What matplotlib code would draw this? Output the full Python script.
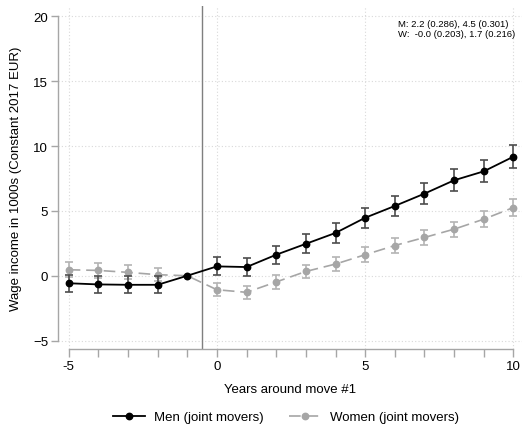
import numpy as np
import matplotlib.pyplot as plt

plt.rcParams['font.family'] = ['Liberation Sans', 'DejaVu Sans']

# event time relative to first move
years = [-5, -4, -3, -2, -1, 0, 1, 2, 3, 4, 5, 6, 7, 8, 9, 10]

# coefficients and 95% CI half-widths (1000s EUR)
men = [-0.58, -0.67, -0.70, -0.70, 0.0, 0.72, 0.67, 1.62, 2.46, 3.30, 4.47, 5.38, 6.33, 7.36, 8.05, 9.18]
men_ci = [0.67, 0.67, 0.66, 0.66, 0.0, 0.70, 0.68, 0.70, 0.72, 0.74, 0.77, 0.80, 0.80, 0.85, 0.86, 0.88]
women = [0.46, 0.41, 0.26, 0.08, 0.0, -1.08, -1.28, -0.48, 0.33, 0.90, 1.62, 2.33, 2.95, 3.59, 4.36, 5.26]
women_ci = [0.58, 0.57, 0.55, 0.52, 0.0, 0.50, 0.50, 0.52, 0.52, 0.53, 0.56, 0.56, 0.57, 0.58, 0.60, 0.62]

note = "M: 2.2 (0.286), 4.5 (0.301)\nW:  -0.0 (0.203), 1.7 (0.216)"

W, H = 527, 427
fig = plt.figure(figsize=(W / 100, H / 100), dpi=100)
ax = fig.add_axes([58 / W, 1 - 350 / H, (522 - 58) / W, (350 - 7) / H])

ax.set_xlim(-5.36, 10.29)
ax.set_ylim(-5.65, 20.8)

# dotted grid
for gy in [-5, 0, 5, 10, 15, 20]:
    ax.axhline(gy, color='#d9d9d9', lw=0.8, ls=(0, (1, 2)), zorder=0)
for gx in [-5, 0, 5, 10]:
    ax.axvline(gx, color='#d9d9d9', lw=0.8, ls=(0, (1, 2)), zorder=0)

ax.axvline(-0.5, color='#7f7f7f', lw=1.0, zorder=1)

ax.errorbar(years, women, yerr=women_ci, fmt='none', ecolor='#b4b4b4',
            elinewidth=1.2, capsize=2.6, capthick=1.2, zorder=2)
ax.plot(years, women, color='#a6a6a6', ls=(0, (7, 3.5)), lw=1.2, marker='o',
        ms=4.6, mfc='#a6a6a6', mec='#a6a6a6', zorder=3, label='Women (joint movers)')

ax.errorbar(years, men, yerr=men_ci, fmt='none', ecolor='#4d4d4d',
            elinewidth=1.2, capsize=2.6, capthick=1.2, zorder=4)
ax.plot(years, men, color='black', lw=1.3, marker='o', ms=4.6,
        mfc='black', mec='black', zorder=5, label='Men (joint movers)')

for side in ['top', 'right']:
    ax.spines[side].set_visible(False)
for side in ['left', 'bottom']:
    ax.spines[side].set_color('#a6a6a6')
    ax.spines[side].set_linewidth(1.0)
ax.spines['left'].set_bounds(-5, 20)
ax.spines['bottom'].set_bounds(-5, 10)

ax.set_xticks(years)
ax.set_xticklabels([str(y) if y % 5 == 0 else '' for y in years])
ax.set_yticks([-5, 0, 5, 10, 15, 20])
ax.tick_params(axis='x', length=6, width=1.0, color='#a6a6a6', labelsize=9.5, pad=2)
ax.tick_params(axis='y', length=5, width=1.0, color='#a6a6a6', labelsize=9.5, pad=2)

ax.set_xlabel('Years around move #1', fontsize=9.5, labelpad=8)
ax.set_ylabel('Wage income in 1000s (Constant 2017 EUR)', fontsize=9.5, labelpad=8)

fig.text(398 / W, 1 - 20 / H, note, fontsize=6.8, va='top', ha='left', linespacing=1.1)

handles, labels = ax.get_legend_handles_labels()
fig.legend(handles[::-1], labels[::-1], loc='center', ncol=2,
           bbox_to_anchor=(286 / W, 1 - 418 / H), frameon=False, fontsize=9.5,
           handlelength=2.4, handletextpad=0.7, columnspacing=1.9)

fig.savefig('out.png', dpi=100)
